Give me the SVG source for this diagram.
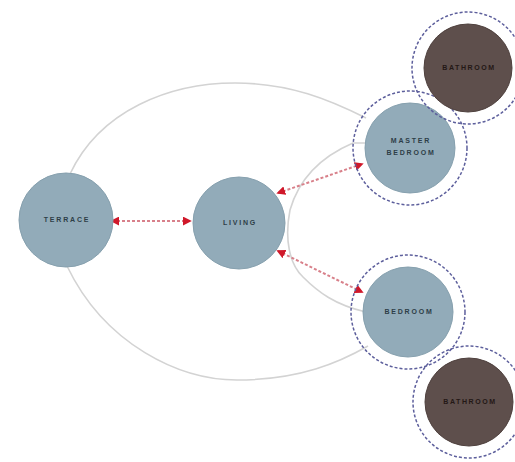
<svg xmlns="http://www.w3.org/2000/svg" width="515" height="462" viewBox="0 0 515 462">
<style>
.room{fill:#92abb9;stroke:#86a0ae;stroke-width:1}
.dark{fill:#5e4f4c;stroke:#4e403d;stroke-width:1}
.ring{fill:none;stroke:#5d5f9c;stroke-width:1.5;stroke-dasharray:3 2}
.arc{fill:none;stroke:#d3d3d3;stroke-width:1.6}
.link{fill:none;stroke:#d8808a;stroke-width:2;stroke-dasharray:3 2}
.lbl{font-family:"Liberation Sans",Arial,sans-serif;font-size:7px;font-weight:bold;fill:#2e3e48;text-anchor:middle;letter-spacing:1.8px}
.lbld{font-family:"Liberation Sans",Arial,sans-serif;font-size:7px;font-weight:bold;fill:#241816;text-anchor:middle;letter-spacing:1.6px}
</style>
<defs>
<marker id="ah" viewBox="0 0 10 10" refX="8" refY="5" markerWidth="4.5" markerHeight="4.5" orient="auto-start-reverse" markerUnits="strokeWidth">
<path d="M0,0 L10,5 L0,10 z" fill="#d0182a"/>
</marker>
</defs>
<rect width="515" height="462" fill="#ffffff"/>
<g id="connectors">
<path class="arc" d="M70,174 C100,110 170,83 235,83 C290,83 330,100 366,118"/>
<path class="arc" d="M67,266 C105,345 180,380 237,380 C300,380 340,362 368,346"/>
<path class="arc" d="M366,143 L353,143 C325,155 300,175 290,210 C284,240 290,265 303,277 C318,292 335,305 366,312"/>
<line class="link" x1="112" y1="221" x2="190" y2="221" marker-start="url(#ah)" marker-end="url(#ah)"/>
<line class="link" x1="278" y1="193" x2="362" y2="164" marker-start="url(#ah)" marker-end="url(#ah)"/>
<line class="link" x1="278" y1="251" x2="362" y2="292" marker-start="url(#ah)" marker-end="url(#ah)"/>
</g>
<g id="terrace">
<circle class="room" cx="66" cy="220" r="47"/>
<text class="lbl" x="67" y="222">TERRACE</text>
</g>
<g id="living">
<circle class="room" cx="239" cy="223" r="46"/>
<text class="lbl" x="240" y="225">LIVING</text>
</g>
<g id="master-bedroom">
<circle class="ring" cx="410" cy="148" r="57"/>
<circle class="room" cx="410" cy="148" r="45"/>
<text class="lbl" x="411" y="143">MASTER</text>
<text class="lbl" x="411" y="155">BEDROOM</text>
</g>
<g id="bath-1">
<circle class="ring" cx="468" cy="68" r="56"/>
<circle class="dark" cx="468" cy="68" r="44"/>
<text class="lbld" x="469" y="70">BATHROOM</text>
</g>
<g id="bedroom">
<circle class="ring" cx="408" cy="312" r="57"/>
<circle class="room" cx="408" cy="312" r="45"/>
<text class="lbl" x="409" y="314">BEDROOM</text>
</g>
<g id="bath-2">
<circle class="ring" cx="469" cy="402" r="56"/>
<circle class="dark" cx="469" cy="402" r="44"/>
<text class="lbld" x="470" y="404">BATHROOM</text>
</g>
</svg>
